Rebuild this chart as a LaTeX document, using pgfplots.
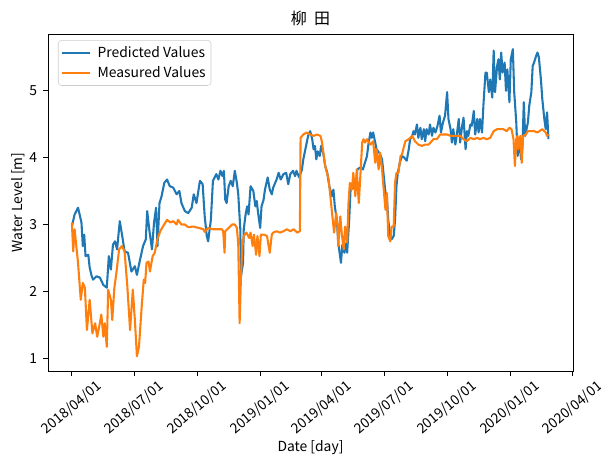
\documentclass[border=0pt]{standalone}
\usepackage{fontspec}
\setmainfont{Noto Sans CJK JP}
\usepackage{pgfplots}
\pgfplotsset{compat=1.18}
\definecolor{tabblue}{HTML}{1F77B4}
\definecolor{taborange}{HTML}{FF7F0E}
\pgfplotstableread{
x y
0 2.97
4 3.15
9 3.25
12 3.12
14 3.03
16 2.68
18 2.85
20 2.53
24 2.55
26 2.36
29 2.23
31 2.18
36 2.23
41 2.21
46 2.10
51 2.06
54 2.53
57 2.33
60 2.70
63 2.75
66 2.63
70 3.05
74 2.80
77 2.60
82 2.58
87 2.30
92 2.38
95 2.25
99 2.45
104 2.68
108 2.78
110 3.20
113 2.93
117 2.63
120 3.03
123 3.25
125 2.68
128 3.32
131 3.42
135 3.62
139 3.67
143 3.57
148 3.55
153 3.45
157 3.50
160 3.32
165 3.20
170 3.17
175 3.25
178 3.45
182 3.32
187 3.65
191 3.60
194 3.12
197 2.83
199 2.75
203 3.07
206 3.65
211 3.75
214 3.67
217 3.80
220 3.72
222 3.80
224 3.37
226 3.32
229 3.57
232 3.65
235 3.57
238 3.80
241 3.62
243 3.45
246 2.93
247 2.23
250 2.43
251 2.93
254 3.17
256 3.27
258 3.15
261 3.57
265 3.50
268 3.27
270 3.35
272 3.17
275 2.95
277 3.27
280 3.37
282 3.52
286 3.70
289 3.52
292 3.45
294 3.55
299 3.67
302 3.77
305 3.67
309 3.75
313 3.77
316 3.60
319 3.75
323 3.80
326 3.72
328 3.80
332 3.70
336 3.82
338 3.97
342 4.17
345 4.32
348 4.39
351 4.27
353 4.12
355 4.17
357 3.97
359 4.09
362 4.02
364 4.17
367 4.07
370 3.87
373 3.77
376 3.57
380 3.42
382 3.52
384 3.27
387 3.07
389 2.73
391 2.58
393 2.43
395 2.70
398 2.58
401 2.73
402 2.58
405 3.07
407 3.52
410 3.57
414 3.52
417 3.82
421 3.85
425 3.82
428 3.92
431 4.02
433 4.19
436 4.37
438 4.29
440 4.37
443 4.22
445 4.12
450 4.05
453 3.97
455 3.77
458 3.47
460 3.42
462 3.07
465 2.83
467 2.78
470 2.83
472 3.07
474 3.57
476 3.77
479 3.92
482 4.02
485 4.00
489 3.95
492 4.12
494 4.27
497 4.32
499 4.39
501 4.34
504 4.49
506 4.29
509 4.44
511 4.27
514 4.42
516 4.24
518 4.42
521 4.34
523 4.49
526 4.32
528 4.44
531 4.37
534 4.47
537 4.62
539 4.37
542 4.52
545 4.62
548 4.97
550 4.57
553 4.42
555 4.22
557 4.42
560 4.19
562 4.32
565 4.57
567 4.22
570 4.47
572 4.59
575 4.12
577 4.39
579 4.32
582 4.49
584 4.47
587 4.69
589 4.34
592 4.57
594 4.37
596 4.57
599 4.37
601 4.77
604 5.26
606 5.26
609 4.97
611 5.16
614 4.89
616 5.59
618 4.97
621 5.36
623 5.46
625 5.16
627 5.56
629 5.26
632 5.41
634 4.99
636 5.31
639 4.82
641 5.46
644 5.61
646 4.97
649 4.52
651 4.02
654 4.22
656 3.97
658 4.17
660 4.82
662 4.32
664 4.42
666 4.52
668 4.77
671 4.97
673 5.36
675 5.41
678 5.51
680 5.56
682 5.49
685 5.16
687 4.87
690 4.57
692 4.42
694 4.67
696 4.27
}\predicted
\pgfplotstableread{
x y
0 3.03
2 2.60
4 2.93
7 2.63
9 2.43
13 1.88
16 2.13
19 2.06
22 1.43
26 1.88
30 1.38
34 1.53
37 1.33
41 1.54
43 1.66
46 1.33
48 1.53
51 1.18
53 2.03
57 1.88
59 1.58
62 2.05
65 2.28
69 2.63
73 2.68
77 2.60
81 2.08
85 1.43
89 2.03
92 1.58
95 1.04
98 1.18
102 1.78
105 2.18
107 2.13
109 2.43
112 2.45
114 2.30
118 2.53
121 2.58
125 2.78
129 2.90
133 2.97
139 3.07
144 3.03
148 3.05
153 3.00
155 3.07
160 3.00
165 3.00
170 2.96
177 2.97
185 2.95
192 2.93
194 2.89
199 2.95
206 2.93
214 2.93
219 2.93
221 2.90
223 2.58
224 2.90
229 2.95
234 3.00
238 3.00
241 2.95
243 2.70
245 1.53
247 2.23
249 2.68
251 2.83
255 2.88
259 2.80
261 2.88
264 2.68
266 2.85
269 2.55
271 2.83
274 2.53
276 2.85
280 2.85
285 2.83
289 2.58
292 2.85
294 2.88
299 2.90
304 2.88
309 2.90
314 2.93
319 2.90
324 2.93
329 2.88
333 2.90
334 4.29
338 4.34
343 4.37
348 4.34
353 4.32
358 4.34
363 4.32
365 4.24
368 4.02
370 3.87
375 3.67
378 3.37
381 3.07
383 2.88
386 3.17
388 2.97
389 2.68
392 3.12
394 2.88
397 2.63
399 2.97
402 2.73
404 3.32
406 3.62
409 3.52
411 3.77
414 3.42
416 3.82
419 3.32
421 3.67
424 4.22
426 4.27
428 4.22
431 4.27
436 4.19
440 4.24
443 3.92
445 4.12
448 3.82
450 4.07
453 3.82
455 3.57
458 3.22
460 3.47
462 2.83
465 2.75
467 2.97
470 2.97
472 3.62
474 3.77
477 3.77
480 4.02
482 4.04
487 4.24
492 4.27
497 4.32
501 4.24
506 4.19
511 4.17
516 4.19
521 4.19
528 4.27
533 4.27
538 4.34
543 4.34
548 4.34
553 4.32
557 4.32
562 4.32
567 4.32
572 4.27
577 4.24
582 4.29
587 4.27
592 4.29
596 4.27
601 4.29
606 4.27
611 4.29
616 4.39
621 4.42
625 4.42
630 4.42
635 4.39
639 4.44
642 4.42
645 4.27
647 3.87
649 4.27
651 4.32
652 4.12
655 4.32
657 3.92
659 4.32
663 4.34
666 4.39
671 4.39
675 4.39
680 4.37
687 4.42
692 4.37
694 4.32
696 4.34
}\measured
\begin{document}
\fontsize{10.4pt}{12.5pt}\selectfont
\begin{tikzpicture}
\begin{axis}[
  scale only axis,
  width=393.75pt, height=252.75pt,
  xmin=-34.85, xmax=731.85,
  ymin=0.82, ymax=5.836,
  axis line style={line width=0.6pt},
  tick align=outside,
  tick pos=left,
  major tick length=3.6pt,
  every tick/.style={black, line width=0.6pt},
  xtick={0,91,183,275,365,456,548,640,731},
  xticklabels={2018/04/01,2018/07/01,2018/10/01,2019/01/01,2019/04/01,2019/07/01,2019/10/01,2020/01/01,2020/04/01},
  ytick={1,2,3,4,5},
  /pgf/number format/assume math mode=true,
  ticklabel style={font=\fontsize{10.4pt}{12pt}\selectfont},
  xticklabel style={yshift=-24pt, rotate=40, anchor=center, inner sep=0pt},
  yticklabel style={xshift=-1pt},
  xlabel={Date [day]},
  ylabel={Water Level [m]},
  xlabel style={at={(axis description cs:0.5,-0.2285)}, anchor=center, font=\fontsize{10.4pt}{12pt}\selectfont},
  ylabel style={at={(axis description cs:-0.0571,0.5)}, anchor=center, font=\fontsize{10.4pt}{12pt}\selectfont},
  title={柳\hspace{0.45em}田},
  title style={at={(axis description cs:0.5,1.0238)}, anchor=center, font=\fontsize{12pt}{14pt}\selectfont},
  legend style={at={(axis description cs:0.019,0.982)}, anchor=north west,
    draw=black!20, rounded corners=2.5pt, fill=white, fill opacity=0.8, text opacity=1,
    font=\fontsize{10.4pt}{12pt}\selectfont, inner xsep=2pt, inner ysep=2.5pt,
    row sep=1.2pt, column sep=3pt},
  legend cell align=left,
  legend image code/.code={\draw[#1] (0pt,0pt) -- (21pt,0pt);},
]
\addplot[tabblue, line width=1.56pt, line join=round] table[x=x,y=y] {\predicted};
\addlegendentry{Predicted Values}
\addplot[taborange, line width=1.56pt, line join=round] table[x=x,y=y] {\measured};
\addlegendentry{Measured Values}
\coordinate (sw) at (rel axis cs:0,0);
\end{axis}
\pgfresetboundingbox
\path[use as bounding box] ([xshift=-36pt,yshift=-66pt]sw) rectangle ++(450.75pt,344.25pt);
\end{tikzpicture}
\end{document}
